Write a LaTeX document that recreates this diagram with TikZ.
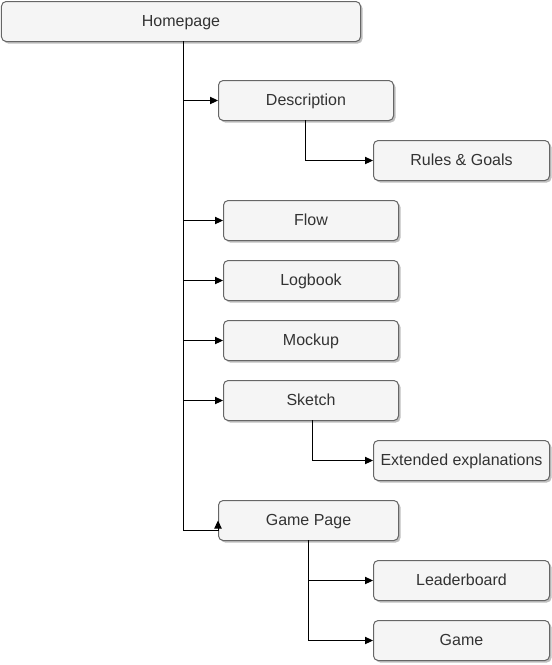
\documentclass[tikz,border=0pt]{standalone}
\usepackage{fontspec}
\setmainfont{Liberation Sans}
\usetikzlibrary{arrows.meta,shadows}
\definecolor{boxfill}{HTML}{F5F5F5}
\definecolor{boxline}{HTML}{666666}
\definecolor{txt}{HTML}{333333}
\tikzset{
  pagebox/.style={draw=boxline, fill=boxfill, rounded corners=3.5pt, line width=0.75pt,
    drop shadow={shadow xshift=1.5pt, shadow yshift=-1.5pt, opacity=0.25, fill=black},
    text=txt, font=\fontsize{12pt}{14pt}\selectfont, inner sep=0pt, anchor=north west,
    text height=10.6pt, text depth=2.6pt},
  link/.style={draw=black, line width=0.75pt, -{Triangle[length=6pt,width=5.5pt]}},
  sublink/.style={link, draw=black}
}
\begin{document}
\begin{tikzpicture}[x=0.75pt,y=-0.75pt]
\useasboundingbox (0,0) rectangle (552,665);
\node[pagebox, minimum width=359*0.75pt, minimum height=40*0.75pt] (home) at (1,1) {Homepage};
\node[pagebox, minimum width=175*0.75pt, minimum height=40*0.75pt] (desc) at (218,80) {Description};
\node[pagebox, minimum width=176*0.75pt, minimum height=40*0.75pt] (rules) at (373,140) {Rules \& Goals};
\node[pagebox, minimum width=175*0.75pt, minimum height=40*0.75pt] (flow) at (223,200) {Flow};
\node[pagebox, minimum width=175*0.75pt, minimum height=40*0.75pt] (log) at (223,260) {Logbook};
\node[pagebox, minimum width=175*0.75pt, minimum height=40*0.75pt] (mock) at (223,320) {Mockup};
\node[pagebox, minimum width=175*0.75pt, minimum height=40*0.75pt] (sketch) at (223,380) {Sketch};
\node[pagebox, minimum width=176*0.75pt, minimum height=40*0.75pt] (ext) at (373,440) {Extended explanations};
\node[pagebox, minimum width=180*0.75pt, minimum height=40*0.75pt] (game) at (218,500) {Game Page};
\node[pagebox, minimum width=176*0.75pt, minimum height=40*0.75pt] (lead) at (373,560) {Leaderboard};
\node[pagebox, minimum width=176*0.75pt, minimum height=40*0.75pt] (play) at (373,620) {Game};

\coordinate (trunk) at (183,41);
\coordinate (gpcorner) at (218,530);
\draw[link] (trunk) |- (desc.west);
\draw[link] (trunk) |- (flow.west);
\draw[link] (trunk) |- (log.west);
\draw[link] (trunk) |- (mock.west);
\draw[link] (trunk) |- (sketch.west);
\draw[link] (trunk) |- (gpcorner) -- (game.west);

\draw[sublink] (305,120) |- (rules.west);
\draw[sublink] (312,420) |- (ext.west);
\draw[sublink] (308,540) |- (lead.west);
\draw[sublink] (308,540) |- (play.west);
\end{tikzpicture}
\end{document}
